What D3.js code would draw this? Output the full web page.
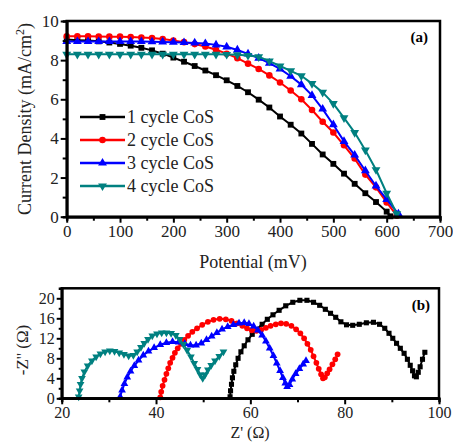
<!DOCTYPE html>
<html><head><meta charset="utf-8">
<script src="https://cdn.jsdelivr.net/npm/d3@7"></script>
<style>body{margin:0;background:#fff}svg{display:block}text{font-family:"Liberation Serif","Times New Roman",serif}</style>
</head><body>
<svg id="c" width="453" height="444"></svg>
<script>
// ---- Panel (a): J-V data ----
const potential = [0,20,40,60,80,100,120,140,160,180,200,220,240,260,280,300,320,340,360,380,400,420,440,460,480,500,520,540,560,580,600];
const jv1 = [9.05,9.02,9.0,8.96,8.9,8.83,8.74,8.63,8.5,8.33,8.13,7.92,7.7,7.47,7.23,6.97,6.68,6.36,5.98,5.58,5.12,4.7,4.25,3.72,3.18,2.7,2.2,1.68,1.2,0.75,0.26];
const jv1End = [607, 0.02];
const jv2 = [9.22,9.22,9.22,9.21,9.2,9.2,9.18,9.16,9.13,9.08,9.0,8.92,8.82,8.7,8.53,8.33,8.1,7.82,7.55,7.22,6.86,6.45,6.0,5.45,4.85,4.3,3.65,2.97,2.15,1.5,0.73];
const jv2End = [619, 0.05];
const jv3 = [8.95,8.95,8.95,8.95,8.95,8.95,8.95,8.95,8.94,8.93,8.92,8.9,8.88,8.85,8.78,8.68,8.52,8.32,8.1,7.85,7.55,7.18,6.75,6.2,5.5,4.7,3.85,3.15,2.35,1.57,0.88];
const jv3End = [622, 0.15];
const jv4 = [8.3,8.3,8.3,8.3,8.3,8.3,8.3,8.3,8.3,8.3,8.3,8.3,8.3,8.3,8.3,8.29,8.27,8.24,8.17,7.95,7.7,7.45,7.2,6.8,6.35,5.78,5.05,4.3,3.4,2.4,1.2];
const jv4End = [619, 0.15];
const legendLabels = ["1 cycle CoS","2 cycle CoS","3 cycle CoS","4 cycle CoS"];
const xTicksA = [0,100,200,300,400,500,600,700];
const yTicksA = [0,2,4,6,8,10];

// ---- Panel (b): Nyquist data ----
const zr1 = [55.7,55.8,56.0,56.2,56.5,56.9,57.4,58.0,58.7,59.5,60.4,61.4,62.5,63.6,64.8,66.1,67.5,69.0,70.5,72.0,73.4,74.7,75.9,77.0,78.1,79.2,80.4,81.7,83.1,84.6,86.1,87.4,88.5,89.4,90.2,91.0,91.8,92.6,93.3,93.9,94.4,94.8,95.2,95.6,96.0,96.5,97.0];
const zi1 = [0.3,1.5,2.8,4.1,5.4,6.7,8.0,9.3,10.5,11.7,12.8,13.8,14.8,15.8,16.7,17.6,18.5,19.2,19.6,19.6,19.2,18.6,17.8,17.0,16.2,15.3,14.7,14.6,14.8,15.1,15.2,14.8,14.0,13.0,12.0,11.0,10.0,9.0,7.8,6.6,5.5,4.5,4.3,5.2,6.3,7.8,9.2];
const zr2 = [40.9,41.1,41.4,41.8,42.2,42.6,43.0,43.5,44.0,44.6,45.3,46.0,46.8,47.7,48.7,49.8,51.0,52.2,53.5,54.8,56.0,57.2,58.3,59.3,60.3,61.3,62.3,63.3,64.3,65.4,66.5,67.6,68.7,69.7,70.6,71.4,72.1,72.8,73.4,74.0,74.5,75.0,75.4,75.8,76.3,76.8,77.4,78.0,78.5];
const zi2 = [0.2,1.3,2.5,3.7,4.9,6.0,7.1,8.1,9.1,10.0,10.9,11.7,12.5,13.3,14.0,14.7,15.3,15.7,15.9,15.8,15.5,15.0,14.5,14.0,13.6,13.5,13.7,14.1,14.5,14.8,15.0,14.9,14.5,13.8,13.0,12.0,10.9,9.7,8.4,7.1,5.9,4.8,4.0,4.2,5.0,5.8,6.8,7.8,8.8];
const zr3 = [32.4,32.8,33.3,33.9,34.6,35.4,36.3,37.3,38.4,39.6,40.9,42.2,43.5,44.8,46.1,47.3,48.5,49.6,50.7,51.8,52.9,54.0,55.2,56.4,57.6,58.7,59.7,60.7,61.6,62.5,63.3,64.1,64.9,65.6,66.3,66.9,67.4,67.8,68.3,68.9,69.6,70.4,71.2,71.8];
const zi3 = [0.3,1.6,2.9,4.2,5.4,6.5,7.6,8.6,9.4,10.1,10.7,11.1,11.3,11.2,10.9,10.6,10.6,11.0,11.7,12.4,13.1,13.8,14.3,14.7,15.0,15.1,14.9,14.4,13.6,12.6,11.4,10.0,8.5,7.0,5.5,4.1,3.0,2.3,2.7,3.8,4.9,5.9,6.8,7.5];
const zr4 = [23.6,23.8,24.0,24.3,24.8,25.5,26.4,27.3,28.2,29.2,30.2,31.2,32.2,33.2,34.2,35.2,36.0,36.8,37.5,38.3,39.2,40.2,41.2,42.2,43.2,44.2,45.0,45.8,46.6,47.4,48.1,48.8,49.4,49.9,50.4,51.0,51.7,52.5,53.4,54.3];
const zi4 = [0.3,1.5,2.8,4.0,5.3,6.5,7.5,8.3,8.9,9.3,9.5,9.4,9.1,8.8,8.5,8.6,9.3,10.2,11.0,11.8,12.5,12.9,13.1,13.1,13.0,12.6,11.8,10.8,9.6,8.3,7.0,5.8,4.7,4.0,4.7,5.7,6.6,7.5,8.4,9.3];
const xTicksB = [20,40,60,80,100];
const yTicksB = [0,4,8,12,16,20];

const colors = ["#000000","#ff0000","#0000ff","#008080"];
const symbols = [d3.symbolSquare, d3.symbolCircle, d3.symbolTriangle, "down"];

const svg = d3.select("#c");

function marker(g, i, x, y, size) {
  if (i === 3) {
    g.append("path").attr("d", d3.symbol().type(d3.symbolTriangle).size(size)())
      .attr("transform", `translate(${x},${y}) rotate(180)`).attr("fill", colors[i]);
  } else {
    g.append("path").attr("d", d3.symbol().type(symbols[i]).size(size)())
      .attr("transform", `translate(${x},${y})`).attr("fill", colors[i]);
  }
}

function drawSeries(g, pts, i, xs, ys, size, lw) {
  g.append("path").datum(pts)
    .attr("d", d3.line().x(d => xs(d[0])).y(d => ys(d[1])))
    .attr("fill", "none").attr("stroke", colors[i]).attr("stroke-width", lw);
  pts.forEach(d => marker(g, i, xs(d[0]), ys(d[1]), size));
}

// ---------- Panel (a) ----------
const xA = d3.scaleLinear().domain([0,700]).range([66.7,440]);
const yA = d3.scaleLinear().domain([0,10]).range([216.7,21]);
const gA = svg.append("g");
const jvs = [[jv1,jv1End],[jv2,jv2End],[jv3,jv3End],[jv4,jv4End]];
jvs.forEach(([arr,end],i) => {
  const pts = potential.map((p,k) => [p, arr[k]]);
  pts.push(end);
  drawSeries(gA, pts, i, xA, yA, 34, 2);
});

// axes a
gA.append("g").attr("transform", `translate(0,${yA(0)})`)
  .call(d3.axisBottom(xA).tickValues(xTicksA).tickSize(6).tickSizeOuter(0).tickPadding(2).tickFormat(d3.format("d")));
gA.append("g").attr("transform", `translate(0,${yA(0)})`)
  .call(d3.axisBottom(xA).tickValues(d3.range(50,700,100)).tickSize(4).tickFormat(""));
gA.append("g").attr("transform", `translate(${xA(0)},0)`)
  .call(d3.axisLeft(yA).tickValues(yTicksA).tickSize(6).tickSizeOuter(0).tickPadding(2));
gA.append("g").attr("transform", `translate(${xA(0)},0)`)
  .call(d3.axisLeft(yA).tickValues(d3.range(1,10,2)).tickSize(4).tickFormat(""));
gA.append("rect").attr("x", xA(0)).attr("y", yA(10)).attr("width", xA(700)-xA(0)).attr("height", yA(0)-yA(10))
  .attr("fill","none").attr("stroke","#000").attr("stroke-width",2.5);

// ---------- Panel (b) ----------
const xB = d3.scaleLinear().domain([20,100]).range([61.7,439]);
const yB = d3.scaleLinear().domain([0,22]).range([398.3,288.3]);
const gB = svg.append("g");
const nyq = [[zr1,zi1],[zr2,zi2],[zr3,zi3],[zr4,zi4]];
nyq.forEach(([zr,zi],i) => {
  const pts = zr.map((z,k) => [z, zi[k]]);
  drawSeries(gB, pts, i, xB, yB, 26, 2);
});
gB.append("g").attr("transform", `translate(0,${yB(0)})`)
  .call(d3.axisBottom(xB).tickValues(xTicksB).tickSize(6).tickSizeOuter(0).tickPadding(2));
gB.append("g").attr("transform", `translate(0,${yB(0)})`)
  .call(d3.axisBottom(xB).tickValues([30,50,70,90]).tickSize(4).tickFormat(""));
gB.append("g").attr("transform", `translate(${xB(20)},0)`)
  .call(d3.axisLeft(yB).tickValues(yTicksB).tickSize(5).tickSizeOuter(0).tickPadding(2));
gB.append("g").attr("transform", `translate(${xB(20)},0)`)
  .call(d3.axisLeft(yB).tickValues([2,6,10,14,18]).tickSize(3).tickFormat(""));
gB.append("rect").attr("x", xB(20)).attr("y", yB(22)).attr("width", xB(100)-xB(20)).attr("height", yB(0)-yB(22))
  .attr("fill","none").attr("stroke","#000").attr("stroke-width",2.5);

// style axes
svg.selectAll(".domain").attr("stroke","#000").attr("stroke-width",2.5);
svg.selectAll(".tick line").attr("stroke","#000").attr("stroke-width",2);
gA.selectAll(".tick text").attr("font-size",17).attr("font-family","Liberation Serif").attr("fill","#222");
gB.selectAll(".tick text").attr("font-size",16).attr("font-family","Liberation Serif").attr("fill","#222");

// legend
const leg = gA.append("g");
legendLabels.forEach((t,i) => {
  const y = 117 + i*23;
  leg.append("line").attr("x1",80).attr("x2",125).attr("y1",y).attr("y2",y).attr("stroke",colors[i]).attr("stroke-width",2.5);
  marker(leg, i, 102.5, y, 34);
  leg.append("text").attr("x",127).attr("y",y+6).attr("font-size",18).attr("fill","#222").text(t);
});

// labels
svg.append("text").attr("x",428).attr("y",42).attr("text-anchor","end").attr("font-size",15).attr("font-weight","bold").text("(a)");
svg.append("text").attr("x",430).attr("y",310).attr("text-anchor","end").attr("font-size",15).attr("font-weight","bold").text("(b)");

const yl = svg.append("text").attr("transform","translate(31,119) rotate(-90)").attr("text-anchor","middle").attr("font-size",18).attr("fill","#222");
yl.append("tspan").text("Current Density (mA/cm");
yl.append("tspan").attr("font-size",12).attr("dy",-7).text("2");
yl.append("tspan").attr("dy",7).text(")");
svg.append("text").attr("x",253).attr("y",268).attr("text-anchor","middle").attr("font-size",18).attr("fill","#222").text("Potential (mV)");
svg.append("text").attr("transform","translate(28,350) rotate(-90)").attr("text-anchor","middle").attr("font-size",17).attr("fill","#222").text("-Z'' (Ω)");
svg.append("text").attr("x",250).attr("y",438).attr("text-anchor","middle").attr("font-size",16).attr("fill","#222").text("Z' (Ω)");
</script>
</body></html>
